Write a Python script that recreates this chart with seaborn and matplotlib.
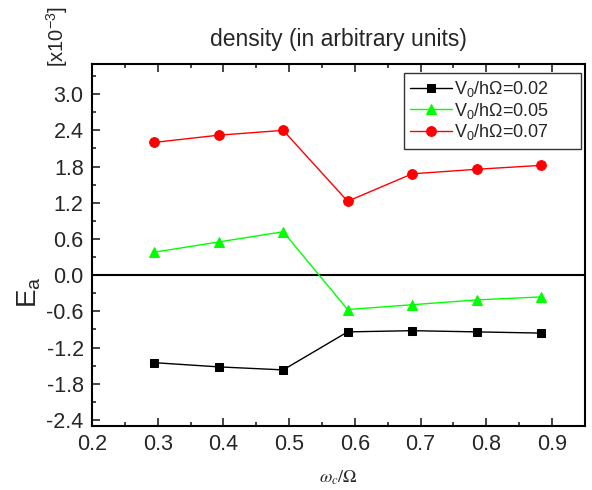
import numpy as np
import pandas as pd
import matplotlib
matplotlib.use("Agg")
import matplotlib.pyplot as plt
import seaborn as sns
from matplotlib.ticker import MultipleLocator

# ---- data (E_a in units of 1e-3) ----
omega = [0.2945, 0.3927, 0.4909, 0.5890, 0.6872, 0.7854, 0.8836]
e_002 = [-1.45, -1.52, -1.57, -0.94, -0.92, -0.94, -0.96]
e_005 = [0.38, 0.55, 0.72, -0.57, -0.49, -0.41, -0.36]
e_007 = [2.20, 2.32, 2.40, 1.225, 1.68, 1.755, 1.82]
labels = ["V$_0$/h\u03a9=0.02", "V$_0$/h\u03a9=0.05", "V$_0$/h\u03a9=0.07"]
xticks = [0.2, 0.3, 0.4, 0.5, 0.6, 0.7, 0.8, 0.9]
yticks = [-2.4, -1.8, -1.2, -0.6, 0.0, 0.6, 1.2, 1.8, 2.4, 3.0]

sns.set_style("ticks")
plt.rcParams["font.family"] = ["Liberation Sans", "DejaVu Sans"]
plt.rcParams["mathtext.fontset"] = "custom"
plt.rcParams["mathtext.rm"] = "Liberation Sans"
plt.rcParams["mathtext.it"] = "Liberation Sans:italic"

fig = plt.figure(figsize=(5.92, 4.9), dpi=100)
ax = fig.add_axes([0.1554, 0.1306, 0.8326, 0.7388])

series = [(e_002, "black", "s", 6), (e_005, "#00ff00", "^", 7.5), (e_007, "#ff0000", "o", 7)]
for (vals, col, mk, ms), lab in zip(series, labels):
    sns.lineplot(x=omega, y=vals, ax=ax, color=col, marker=mk, markersize=ms,
                 markeredgecolor=col, linewidth=1.0, label=lab)

ax.axhline(0, color="black", lw=1.5, zorder=1)

ax.set_xlim(0.2, 0.95)
ax.set_ylim(-2.5, 3.5)
ax.xaxis.set_minor_locator(MultipleLocator(0.05))
ax.yaxis.set_minor_locator(MultipleLocator(0.3))
ax.set_yticks(yticks)
ax.set_yticklabels([f"{v:.1f}" for v in yticks])
ax.set_xticks(xticks)
ax.set_xticklabels([f"{v:.1f}" for v in xticks])

ax.tick_params(which="both", direction="in", top=True, right=False, width=1.2)
ax.tick_params(which="major", length=6, labelsize=15.5, pad=6)
ax.tick_params(which="minor", length=3)
for sp in ax.spines.values():
    sp.set_linewidth(1.5)
    sp.set_color("black")

ax.set_xlabel(r"$\omega_c/\Omega$", fontsize=13, math_fontfamily="stix")
ax.xaxis.set_label_coords(0.5, -0.118)
ax.set_ylabel(r"E$_\mathrm{a}$", fontsize=20)
ax.yaxis.set_label_coords(-0.10, 0.37)
ax.set_title("density (in arbitrary units)", fontsize=16.5, pad=13)
fig.text(0.097, 0.925, "[x10$^{-3}$]", rotation=90, fontsize=14.5, ha="center", va="center")

leg = ax.legend(loc="upper left", bbox_to_anchor=(0.6325, 0.5, 0.3595, 0.475), mode="expand",
                borderaxespad=0, fontsize=13, frameon=True, fancybox=False, edgecolor="black",
                handlelength=2.3, borderpad=0.35, labelspacing=0.08, handletextpad=0.15)
leg.get_frame().set_linewidth(1.0)

fig.savefig("out.png", dpi=100)
